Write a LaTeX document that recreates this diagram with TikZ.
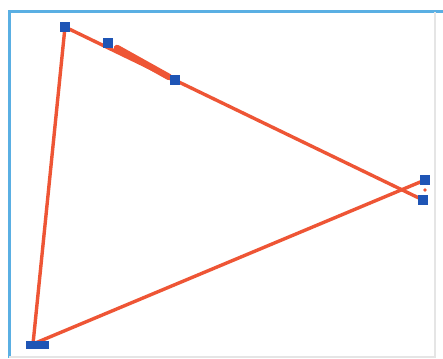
\documentclass[tikz,border=0pt]{standalone}
\definecolor{edgered}{HTML}{EE5535}
\definecolor{handleblue}{HTML}{1F55B5}
\definecolor{frameblue}{HTML}{5AAFE3}
\begin{document}
\begin{tikzpicture}[x=1pt,y=-1pt,
  edge/.style={draw=edgered,line width=3.4pt,line cap=round},
  handle/.style={fill=handleblue,draw=none,minimum width=10pt,minimum height=10pt,inner sep=0pt,rectangle}]
\useasboundingbox (0,0) rectangle (443,358);
\fill[white] (0,0) rectangle (443,358);
\draw[frameblue,line width=3pt] (9,358) -- (9,12) -- (443,12);
\draw[gray!20,line width=1.2pt] (435,12) -- (435,357) -- (9,357);
\coordinate (top) at (65,27);
\coordinate (bl) at (33,344);
\coordinate (thA) at (117,48);
\coordinate (thB) at (169,77);
\draw[edge] (top) -- (423,200);
\draw[edge] (bl) -- (425,180);
\draw[edge] (top) -- (bl);
\draw[draw=edgered,line width=6.5pt,line cap=round] (thA) -- (thB);
\fill[edgered] (425,190) circle (1.8);
\node[handle] (h1) at (65,27) {};
\node[handle] (h2) at (108,43) {};
\node[handle] (h3) at (175,80) {};
\node[handle] (h4) at (425,180) {};
\node[handle] (h5) at (423,200) {};
\node[handle,minimum width=23pt,minimum height=8pt] (h6) at (37,345) {};
\end{tikzpicture}
\end{document}
